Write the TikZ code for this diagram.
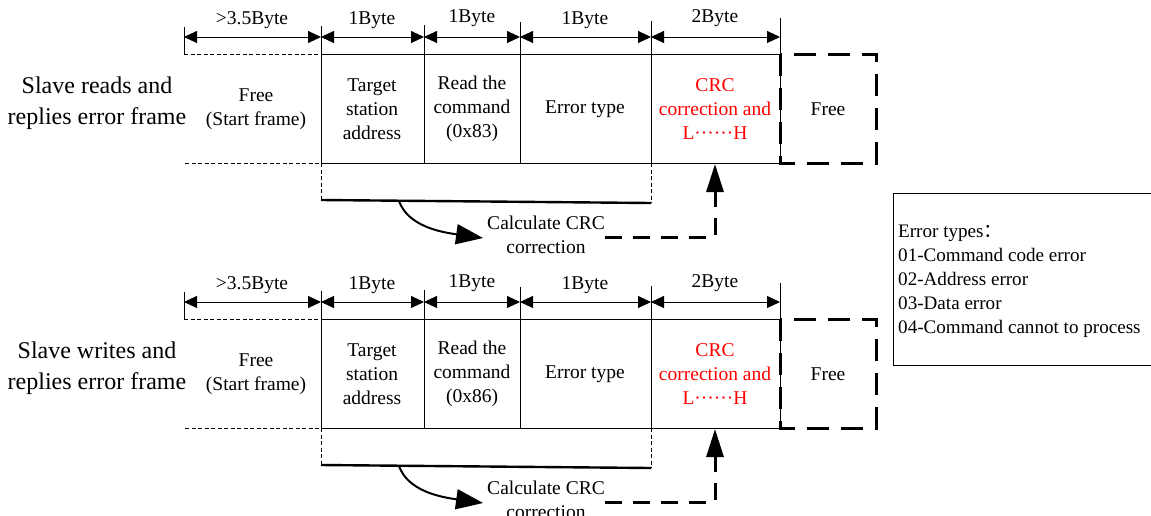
\documentclass[tikz,border=0pt]{standalone}
\usepackage{fontspec}
\setmainfont{Liberation Serif}
\newfontfamily\cjkfont{Noto Sans CJK SC}
\usetikzlibrary{arrows.meta}
\tikzset{
  cell/.style={font=\fontsize{19.5}{24}\selectfont, align=center, inner sep=0pt},
  side/.style={font=\fontsize{24}{31}\selectfont, align=center, inner sep=0pt},
  thinl/.style={line width=0.9pt},
  dimline/.style={line width=0.9pt, {Triangle[length=13pt,width=12pt]}-{Triangle[length=13pt,width=12pt]}},
  guide/.style={line width=0.8pt, dash pattern=on 4pt off 2.5pt},
  boxdash/.style={line width=3pt, dash pattern=on 22pt off 12pt},
  flowdash/.style={line width=3pt, dash pattern=on 17pt off 11pt},
  thickbar/.style={line width=2.4pt},
}
\newcommand\slaveframe[4]{%
\begin{scope}[shift={(0,#1)}]
  % dimension ticks and frame lines
  \draw[thinl] (184,27) -- (184,54);
  \draw[guide] (184,54) -- (321,54);
  \draw[guide] (185,163) -- (321,163);
  \draw[thinl] (321,26) -- (321,163);
  \draw[thinl] (424,25) -- (424,163);
  \draw[thinl] (520,22) -- (520,163);
  \draw[thinl] (651,21) -- (651,163);
  \draw[thinl] (780,18) -- (780,163);
  \draw[thinl] (321,54) -- (780,54);
  \draw[thinl] (321,163) -- (780,163);
  % dimension arrows
  \draw[dimline] (184,37) -- (321,37);
  \draw[dimline] (321,37) -- (424,37);
  \draw[dimline] (424,37) -- (520,37);
  \draw[dimline] (520,37) -- (651,37);
  \draw[dimline] (651,37) -- (780,37);
  \node[cell] (#2b0) at (252,20) {>3.5Byte};
  \node[cell] (#2b1) at (372,20) {1Byte};
  \node[cell] (#2b2) at (472,18) {1Byte};
  \node[cell] (#2b3) at (585,20) {1Byte};
  \node[cell] (#2b4) at (715,18) {2Byte};
  % free box
  \draw[boxdash] (780,54) rectangle (876,163);
  % cell texts
  \node[side] (#2lab) at (97,103) {#3};
  \node[cell] (#2fr) at (256,109) {Free\\(Start frame)};
  \node[cell] (#2tg) at (372,109) {Target\\station\\address};
  \node[cell] (#2rc) at (472,109) {Read the\\command\\(#4)};
  \node[cell] (#2et) at (585,109) {Error type};
  \node[cell, text=red] (#2crc) at (715,109) {CRC\\correction and\\L······H};
  \node[cell] (#2fe) at (828,109) {Free};
  % CRC calculation range
  \draw[guide] (321,163) -- (321,200);
  \draw[guide] (651,163) -- (651,203);
  \coordinate (#2ra) at (321,200);
  \coordinate (#2rb) at (651,203);
  \draw[thickbar] (#2ra) -- (#2rb);
  \coordinate (#2cs) at (399,201);
  \coordinate (#2in) at (715,164);
  \node[cell] (#2calc) at (546,235) {Calculate CRC\\correction};
  \draw[line width=2pt, -{Triangle[length=27pt,width=20pt]}]
    (#2cs) .. controls (408,226) and (440,232) .. ([xshift=-4pt,yshift=-3pt]#2calc.west);
  \draw[flowdash, -{Triangle[length=28pt,width=17pt]}]
    ([yshift=-2pt]#2calc.east) -| (#2in);
\end{scope}}
\begin{document}
\begin{tikzpicture}[x=1pt,y=-1pt]
\useasboundingbox (0,0) rectangle (1151,515);
\slaveframe{0}{r}{Slave reads and\\replies error frame}{0x83}
\slaveframe{265}{w}{Slave writes and\\replies error frame}{0x86}
\draw[line width=0.9pt] (1160,193) -- (893,193) -- (893,365) -- (1160,365);
\node[anchor=west, inner sep=0pt, align=left,
      font=\fontsize{19.1}{24}\selectfont] (errbox) at (898,281)
  {Error types{\cjkfont ：}\\01-Command code error\\02-Address error\\03-Data error\\04-Command cannot to process};
\end{tikzpicture}
\end{document}
